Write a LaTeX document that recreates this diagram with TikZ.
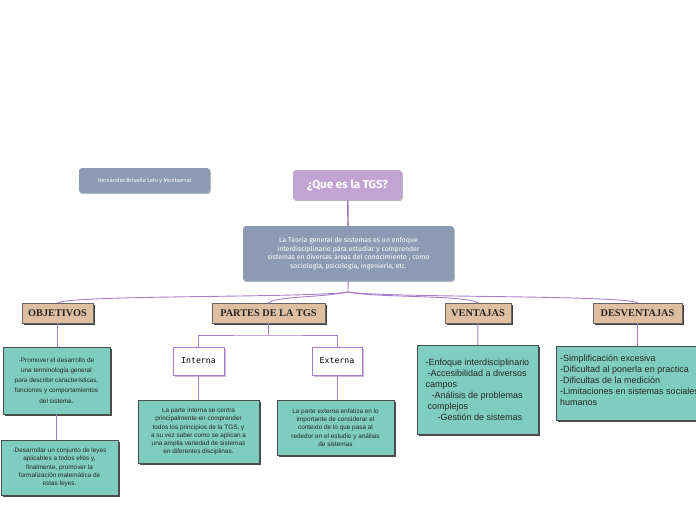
\documentclass[tikz,border=0pt]{standalone}
\usepackage{fontspec}
\setmainfont{Liberation Sans}
\newfontfamily\titulofont{Fira Sans}
\newfontfamily\cabfont{Liberation Serif}
\newfontfamily\codfont{DejaVu Sans Mono}
\usetikzlibrary{shadows}
\definecolor{gris}{HTML}{8C9BB3}
\definecolor{lila}{HTML}{C2A4D4}
\definecolor{linea}{HTML}{A77DC9}
\definecolor{cafe}{HTML}{E0BEA0}
\definecolor{verde}{HTML}{7FCDC0}
\tikzset{
    rama/.style={draw=linea, line width=0.9pt},
    suave/.style={general shadow={fill=black!25, shadow xshift=0.8pt, shadow yshift=-1.2pt}},
    grisbox/.style={rectangle, rounded corners=3pt, fill=gris, text=white, suave, inner sep=0pt, align=center},
    cabecera/.style={rectangle, fill=cafe, draw=black!60, line width=0.5pt, inner sep=0pt,
        general shadow={fill=black!75, shadow xshift=1.8pt, shadow yshift=-1.8pt},
        font=\cabfont\bfseries\fontsize{10.3}{12}\selectfont, text=black!85},
    hoja/.style={rectangle, fill=verde, draw=black!70, line width=0.5pt, inner sep=0pt, align=center,
        general shadow={fill=black!70, shadow xshift=1.8pt, shadow yshift=-1.8pt},
        font=\fontsize{6.4}{8.3}\selectfont, text=black!85},
    parte/.style={rectangle, fill=white, draw=linea, line width=0.6pt, inner sep=0pt,
        general shadow={fill=lila!80, shadow xshift=1.8pt, shadow yshift=-1.8pt},
        font=\codfont\fontsize{8.2}{10}\selectfont}
}

\begin{document}
\begin{tikzpicture}[x=1pt,y=-1pt]
    \path[use as bounding box, clip] (0,0) rectangle (696,520);

    \node[grisbox, minimum width=131, minimum height=25, font=\titulofont\fontsize{5.6}{6}\selectfont] (autor) at (144.5,180.5) {Hernández Briseño Lehi y Montserrat};
    \node[grisbox, fill=lila, minimum width=109, minimum height=30, font=\titulofont\bfseries\fontsize{11.5}{13}\selectfont] (tgs) at (347.5,185) {¿Que es la TGS?};
    \node[grisbox, minimum width=211, minimum height=55, font=\titulofont\fontsize{6.9}{8.7}\selectfont] (desc) at (348.5,253.5)
        {La Teoría general de sistemas es un enfoque\\ interdisciplinario para estudiar y comprender\\ sistemas en diversas áreas del conocimiento , como\\ sociología, psicología, ingeniería, etc.};

    \node[cabecera, minimum width=71, minimum height=20] (objetivos) at (57.5,313) {OBJETIVOS};
    \node[cabecera, minimum width=113, minimum height=20] (partes) at (268.5,313) {PARTES DE LA TGS};
    \node[cabecera, minimum width=66, minimum height=20] (ventajas) at (478,313) {VENTAJAS};
    \node[cabecera, minimum width=89, minimum height=20] (desventajas) at (637.5,313) {DESVENTAJAS};

    \node[hoja, minimum width=107, minimum height=67, font=\fontsize{6.4}{10.2}\selectfont] (promover) at (56.5,380.5)
        {-Promover el desarrollo de\\ una terminología general\\ para describir características,\\ funciones y comportamientos\\ del sistema.};
    \node[hoja, minimum width=117, minimum height=55] (leyes) at (59.5,467.5)
        {-Desarrollar un conjunto de leyes\\ aplicables a todos ellos y,\\ finalmente, promover la\\ formalización matemática de\\ estas leyes.};

    \node[parte, minimum width=51, minimum height=28] (interna) at (198.5,361) {Interna};
    \node[parte, minimum width=50, minimum height=28] (externa) at (337,361) {Externa};
    \node[hoja, minimum width=121, minimum height=63] (tinterna) at (198.5,431.5)
        {La parte interna se centra\\ principalmente en comprender\\ todos los principios de la TGS, y\\ a su vez saber como se aplican a\\ una amplia variedad de sistemas\\ en diferentes disciplinas.};
    \node[hoja, minimum width=117, minimum height=55] (texterna) at (335.5,427.5)
        {La parte externa enfatiza en lo\\ importante de considerar el\\ contexto de lo que pasa al\\ rededor en el estudio y análisis\\ de sistemas};

    \node[hoja, minimum width=121, minimum height=89, align=left, font=\fontsize{9}{11}\selectfont] (tventajas) at (477.5,389.5)
        {-Enfoque interdisciplinario\\ \hspace{2pt}-Accesibilidad a diversos\\ campos\\ \hspace{6pt}-Análisis de problemas\\ \hspace{2pt}complejos\\ \hspace{12pt}-Gestión de sistemas};
    \node[hoja, minimum width=154, minimum height=74, align=left, font=\fontsize{9}{11}\selectfont] (tdesv) at (633,383)
        {-Simplificación excesiva\\ -Dificultad al ponerla en practica\\ -Dificultas de la medición\\ -Limitaciones en sistemas sociales y\\ humanos\\[-5pt]};

    % ramas
    \coordinate (centro) at (348,292);
    \coordinate (division) at (268.5,335);
    \draw[rama, line width=1.4pt, draw=linea!90!black] (tgs) -- (desc);
    \draw[rama] (desc) -- (centro);
    \draw[rama] (centro) .. controls +(-40,6) and +(20,-8) .. (objetivos.north);
    \draw[rama] (centro) .. controls +(-30,6) and +(12,-7) .. (partes.north);
    \draw[rama] (centro) .. controls +(30,6) and +(-15,-8) .. (ventajas.north);
    \draw[rama] (centro) .. controls +(40,6) and +(-20,-8) .. (desventajas.north);

    \draw[rama] (objetivos) -- (objetivos.south |- promover.north);
    \draw[rama] (promover) -- (promover.south |- leyes.north);
    \draw[rama] (partes) -- (division);
    \draw[rama] (interna.north) |- (division) -| (externa.north);
    \draw[rama] (interna) -- (tinterna);
    \draw[rama] (externa) -- (externa.south |- texterna.north);
    \draw[rama] (ventajas) -- (tventajas);
    \draw[rama] (desventajas) -- (desventajas.south |- tdesv.north);
\end{tikzpicture}
\end{document}
